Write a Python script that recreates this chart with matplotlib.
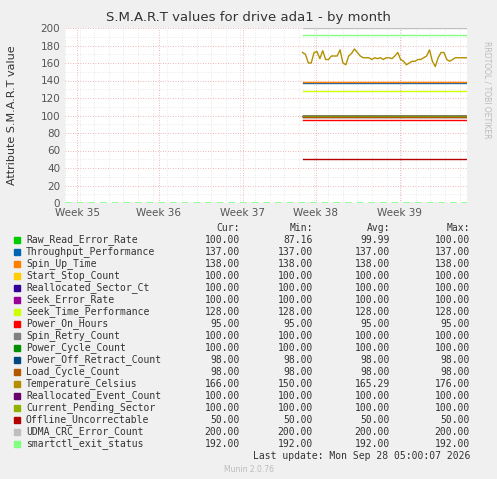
import numpy as np
import matplotlib.pyplot as plt

names = ["Raw_Read_Error_Rate", "Throughput_Performance", "Spin_Up_Time", "Start_Stop_Count",
         "Reallocated_Sector_Ct", "Seek_Error_Rate", "Seek_Time_Performance", "Power_On_Hours",
         "Spin_Retry_Count", "Power_Cycle_Count", "Power_Off_Retract_Count", "Load_Cycle_Count",
         "Temperature_Celsius", "Reallocated_Event_Count", "Current_Pending_Sector",
         "Offline_Uncorrectable", "UDMA_CRC_Error_Count", "smartctl_exit_status"]
colors = ["#00CC00", "#0066B3", "#FF8000", "#FFCC00", "#330099", "#990099", "#CCFF00", "#FF0000",
          "#808080", "#008F00", "#00487D", "#B35A00", "#B38F00", "#6B006B", "#8FB300", "#B30000",
          "#BEBEBE", "#80FF80"]
cur = [100, 137, 138, 100, 100, 100, 128, 95, 100, 100, 98, 98, 166, 100, 100, 50, 200, 192]
mins = [87.16, 137, 138, 100, 100, 100, 128, 95, 100, 100, 98, 98, 150, 100, 100, 50, 200, 192]
avgs = [99.99, 137, 138, 100, 100, 100, 128, 95, 100, 100, 98, 98, 165.29, 100, 100, 50, 200, 192]
maxs = [100, 137, 138, 100, 100, 100, 128, 95, 100, 100, 98, 98, 176, 100, 100, 50, 200, 192]

temp = [172, 170, 160, 160, 172, 173, 165, 174, 164, 164, 168, 168, 168, 175, 160, 158, 168, 171,
        176, 172, 168, 166, 166, 166, 164, 166, 165, 166, 164, 166, 166, 165, 168, 172, 164, 162,
        158, 160, 162, 162, 164, 164, 166, 168, 175, 162, 156, 166, 172, 172, 164, 162, 164, 166,
        166, 166, 166, 166]
t0, t1 = 19.5, 33.0
week_pos = [1.0, 7.7, 14.6, 20.6, 27.5]
week_labels = ["Week 35", "Week 36", "Week 37", "Week 38", "Week 39"]

bg = "#F0F0F0"
fig = plt.figure(figsize=(4.97, 4.79), dpi=100, facecolor=bg)
ax = fig.add_axes([65/497, 1-203/479, 402/497, 175/479], facecolor="white")
ax.set_xlim(0, 33)
ax.set_ylim(0, 200)
ax.set_yticks(range(0, 201, 20))
ax.set_yticks(range(0, 201, 10), minor=True)
ax.set_xticks(week_pos)
ax.set_xticklabels(week_labels)
ax.set_xticks(np.arange(0, 33, 1.2), minor=True)
ax.grid(True, which="minor", color="#E0E0E0", linestyle=(0, (1, 2)), lw=0.6)
ax.grid(True, which="major", color="#E8A0A0", linestyle=(0, (1, 2)), lw=0.6)
ax.tick_params(which="both", labelsize=7.5, colors="#555555", length=0)
for s in ax.spines.values():
    s.set_visible(False)

ax.plot([0, 33], [0, 0], color="#80FF80", lw=1.2, ls=(0, (4, 3)))
order = [16, 17, 1, 2, 6, 0, 3, 4, 5, 8, 9, 13, 14, 10, 11, 7, 15]
for i in order:
    ax.plot([t0, t1], [cur[i], cur[i]], color=colors[i], lw=1)
xt = np.linspace(t0, t1, len(temp))
ax.plot(xt, temp, color=colors[12], lw=1)

fig.text(0.5, 1-17/479, "S.M.A.R.T values for drive ada1 - by month", ha="center", va="center",
         fontsize=9.5, color="#333333")
fig.text(12/497, 1-115/479, "Attribute S.M.A.R.T value", rotation=90, ha="center", va="center",
         fontsize=8, color="#333333")
fig.text(487/497, 1-90/479, "RRDTOOL / TOBI OETIKER", rotation=270, ha="center", va="center",
         fontsize=5.5, color="#BBBBBB")

mono = dict(family="DejaVu Sans Mono", fontsize=7, color="#333333", va="center")
cols = [(240, "Cur:"), (313, "Min:"), (390, "Avg:"), (470, "Max:")]
y = 1 - 228/479
for xpx, h in cols:
    fig.text(xpx/497, y, h, ha="right", **mono)
for k, n in enumerate(names):
    yy = 1 - (240 + k*12)/479
    fig.patches.append(plt.Rectangle((14/497, yy-3/479), 6/497, 6/479, color=colors[k],
                                     transform=fig.transFigure, figure=fig))
    fig.text(26/497, yy, n, ha="left", **mono)
    for (xpx, _), v in zip(cols, [cur[k], mins[k], avgs[k], maxs[k]]):
        fig.text(xpx/497, yy, f"{v:.2f}", ha="right", **mono)
fig.text(470/497, 1-456/479, "Last update: Mon Sep 28 05:00:07 2026", ha="right", **mono)
fig.text(0.5, 1-470/479, "Munin 2.0.76", ha="center", va="center", fontsize=5.5, color="#BBBBBB")

fig.savefig("out.png", dpi=100, facecolor=bg)
